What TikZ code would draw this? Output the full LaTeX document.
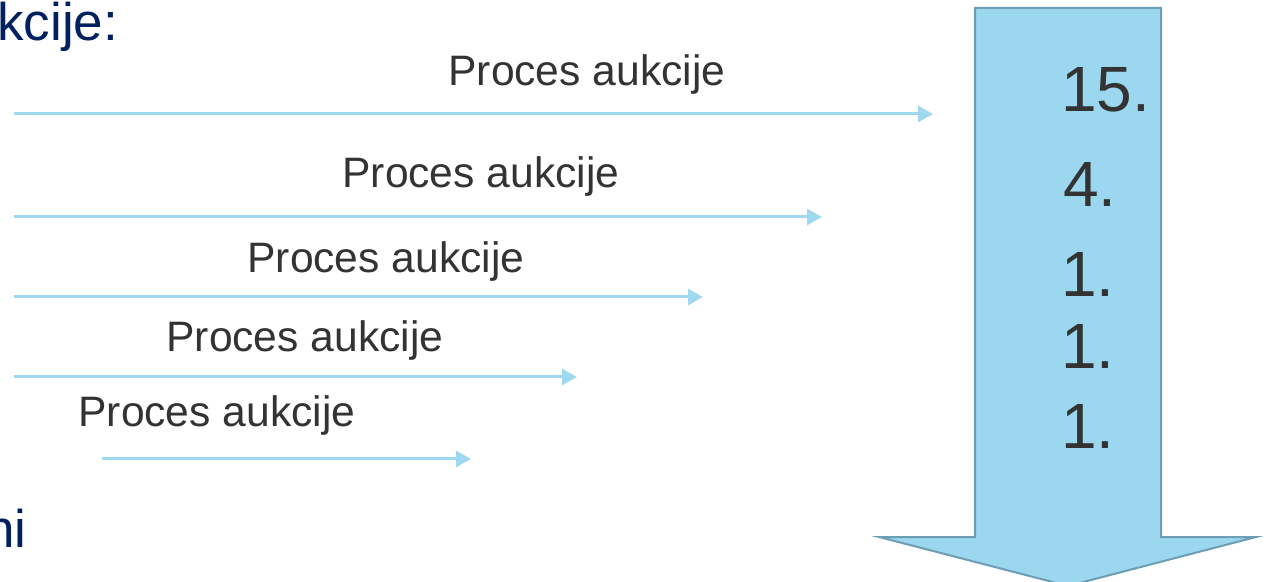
\documentclass[tikz,border=0pt]{standalone}
\usepackage{fontspec}
\setmainfont{Liberation Sans}
\usetikzlibrary{arrows.meta}

\definecolor{navytext}{RGB}{0,32,96}
\definecolor{graytext}{RGB}{51,51,51}
\definecolor{skyline}{RGB}{160,216,240}
\definecolor{skyfill}{RGB}{155,215,239}
\definecolor{skyedge}{RGB}{108,158,180}

\begin{document}
\begin{tikzpicture}[
		x=0.5pt, y=-0.5pt,
		heading/.style={inner sep=0pt, anchor=base west, text=navytext, font=\fontsize{26.5}{32}\selectfont},
		proclabel/.style={inner sep=0pt, anchor=base west, text=graytext, font=\fontsize{21.3}{25}\selectfont},
		rank/.style={inner sep=0pt, anchor=base west, text=graytext, font=\fontsize{32}{38}\selectfont},
		flow/.style={draw=skyline, line width=1.5pt, -{Triangle[length=7.5pt, width=8pt]}},
		bigarrow/.style={fill=skyfill, draw=skyedge, line width=1pt, line join=miter},
	]
		\useasboundingbox (0,0) rectangle (1269,582);

		% cut-off slide text
		\node (head top) [heading] at (-3,41) {kcije:};
		\node (head bottom) [heading] at (-15,547) {ni};

		% ranking arrow
		\draw[bigarrow] (975,8) -- (1161,8) -- (1161,537) -- (1256,537) -- (1068,586)
			-- (879,537) -- (975,537) -- cycle;

		\node (rank a) [rank] at (1061,112) {15.};
		\node (rank b) [rank] at (1063,207) {4.};
		\node (rank c) [rank] at (1061,297) {1.};
		\node (rank d) [rank] at (1061,369) {1.};
		\node (rank e) [rank] at (1061,449) {1.};

		% auction processes
		\node (proc a) [proclabel] at (448,86) {Proces aukcije};
		\node (proc b) [proclabel] at (342,188) {Proces aukcije};
		\node (proc c) [proclabel] at (247,273) {Proces aukcije};
		\node (proc d) [proclabel] at (166,352) {Proces aukcije};
		\node (proc e) [proclabel] at (78,427) {Proces aukcije};

		\coordinate (start a) at (14,114);
		\coordinate (end a) at (933,114);
		\coordinate (start b) at (14,217);
		\coordinate (end b) at (822,217);
		\coordinate (start c) at (14,297);
		\coordinate (end c) at (703,297);
		\coordinate (start d) at (14,377);
		\coordinate (end d) at (577,377);
		\coordinate (start e) at (102,459);
		\coordinate (end e) at (471,459);

		\draw[flow] (start a) -- (end a);
		\draw[flow] (start b) -- (end b);
		\draw[flow] (start c) -- (end c);
		\draw[flow] (start d) -- (end d);
		\draw[flow] (start e) -- (end e);
	\end{tikzpicture}
\end{document}
